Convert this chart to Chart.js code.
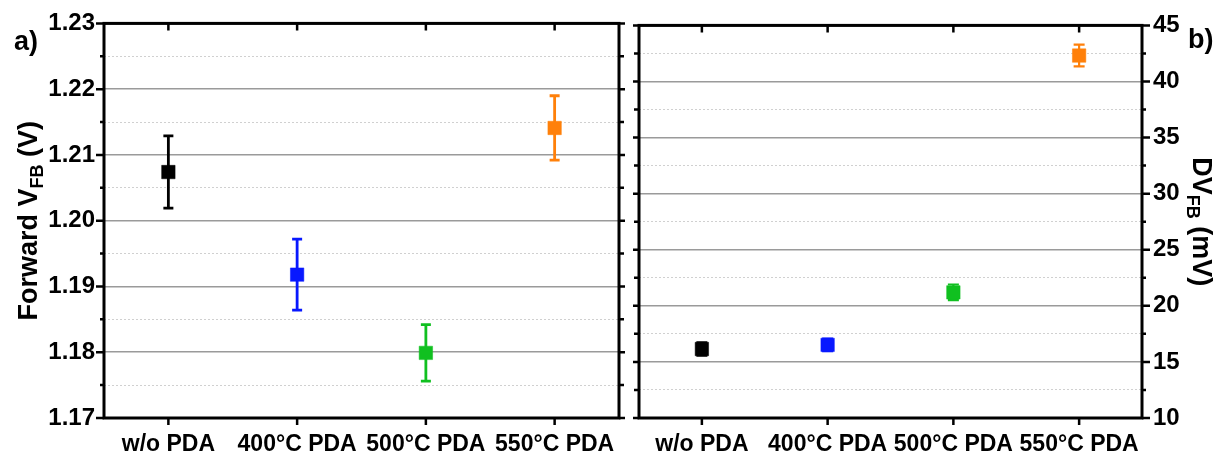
<!DOCTYPE html>
<html>
<head>
<meta charset="utf-8">
<script src="https://cdn.jsdelivr.net/npm/chart.js@4"></script>
<style>
html, body { margin: 0; padding: 0; background: #fff; }
#wrap { position: relative; width: 1227px; height: 455px; overflow: hidden; }
#leftBox { position: absolute; left: 0; top: 0; width: 629px; height: 455px; }
#rightBox { position: absolute; left: 629px; top: 0; width: 598px; height: 455px; }
</style>
</head>
<body>
<div id="wrap">
   <div id="leftBox"><canvas id="vfbChart"></canvas></div>
   <div id="rightBox"><canvas id="dvChart"></canvas></div>
</div>
<script>
// Categorias (tratamentos)
var categorias = ["w/o PDA", "400°C PDA", "500°C PDA", "550°C PDA"];
var cores = ["#000000", "#0818ff", "#10c020", "#ff800a"];

// Painel a) Forward VFB (V)
var vfbMedia = [1.2074, 1.1918, 1.1799, 1.2141];
var vfbErro = [0.0055, 0.0054, 0.0043, 0.0049];
var vfbEixo = { min: 1.17, max: 1.23, passo: 0.005, passoMaior: 0.01 };

// Painel b) DVFB (mV)
var dvMedia = [16.15, 16.52, 21.2, 42.31];
var dvErro = [0.6, 0.55, 0.7, 0.97];
var dvEixo = { min: 10, max: 45, passo: 2.5, passoMaior: 5 };

var FONTE = "'Liberation Sans', Arial, sans-serif";

function ehMaior(valor, passo) {
   var r = valor / passo;
   return Math.abs(r - Math.round(r)) < 1e-6;
}

// Texto com subscrito, girado
function tituloSub(ctx, partes, cx, cy, ang, tam) {
   ctx.save();
   ctx.translate(cx, cy);
   ctx.rotate(ang);
   ctx.fillStyle = "#000";
   ctx.textBaseline = "alphabetic";
   ctx.textAlign = "left";
   var tamSub = Math.round(tam * 0.66);
   var total = 0;
   partes.forEach(function (p) {
      ctx.font = "bold " + (p[1] ? tamSub : tam) + "px " + FONTE;
      total += ctx.measureText(p[0]).width;
   });
   var x = -total / 2;
   var base = tam * 0.36;
   partes.forEach(function (p) {
      ctx.font = "bold " + (p[1] ? tamSub : tam) + "px " + FONTE;
      ctx.fillText(p[0], x, p[1] ? base + tam * 0.22 : base);
      x += ctx.measureText(p[0]).width;
   });
   ctx.restore();
}

var molduraPlugin = {
   id: "moldura",
   beforeDatasetsDraw: function (chart, args, opts) {
      // barras de erro
      var ctx = chart.ctx, sx = chart.scales.x, sy = chart.scales.y;
      var dados = chart.data.datasets[0].data;
      ctx.save();
      ctx.lineWidth = opts.larguraErro;
      dados.forEach(function (v, i) {
         var px = sx.getPixelForValue(i);
         var topo = sy.getPixelForValue(v + opts.erros[i]);
         var baixo = sy.getPixelForValue(v - opts.erros[i]);
         var c = opts.capa / 2;
         ctx.strokeStyle = cores[i];
         ctx.beginPath();
         ctx.moveTo(px, topo); ctx.lineTo(px, baixo);
         ctx.moveTo(px - c, topo); ctx.lineTo(px + c, topo);
         ctx.moveTo(px - c, baixo); ctx.lineTo(px + c, baixo);
         ctx.stroke();
      });
      ctx.restore();
   },
   afterDraw: function (chart, args, opts) {
      var ctx = chart.ctx, a = chart.chartArea;
      var sx = chart.scales.x, sy = chart.scales.y;
      ctx.save();
      ctx.strokeStyle = "#000";
      ctx.lineWidth = 3;
      ctx.strokeRect(a.left, a.top, a.right - a.left, a.bottom - a.top);
      ctx.lineWidth = 2.5;
      ctx.beginPath();
      // marcas do eixo y
      sy.ticks.forEach(function (t) {
         var py = sy.getPixelForValue(t.value);
         var maior = ehMaior(t.value, opts.passoMaior);
         var lado = maior ? 8 : 4;
         var oposto = maior ? 6 : 5;
         if (opts.ladoRotulo === "left") {
            ctx.moveTo(a.left, py); ctx.lineTo(a.left - lado, py);
            ctx.moveTo(a.right, py); ctx.lineTo(a.right + oposto, py);
         } else {
            ctx.moveTo(a.right, py); ctx.lineTo(a.right + lado, py);
            ctx.moveTo(a.left, py); ctx.lineTo(a.left - oposto, py);
         }
      });
      // marcas do eixo x
      categorias.forEach(function (c, i) {
         var px = sx.getPixelForValue(i);
         ctx.moveTo(px, a.bottom); ctx.lineTo(px, a.bottom + 7);
         ctx.moveTo(px, a.top); ctx.lineTo(px, a.top + 7);
      });
      ctx.stroke();
      ctx.restore();

      // letra do painel
      ctx.save();
      ctx.fillStyle = "#000";
      ctx.font = "bold 27px " + FONTE;
      ctx.textBaseline = "alphabetic";
      ctx.fillText(opts.letra, opts.letraX, opts.letraY);
      ctx.restore();

      var cy = (a.top + a.bottom) / 2;
      tituloSub(ctx, opts.titulo, opts.tituloX, cy, opts.ladoRotulo === "left" ? -Math.PI / 2 : Math.PI / 2, 27);
   },
};

function eixoY(eixo, posicao, largura, padding, fmt) {
   return {
      position: posicao,
      min: eixo.min,
      max: eixo.max,
      afterFit: function (s) { s.width = largura; },
      ticks: {
         stepSize: eixo.passo,
         autoSkip: false,
         padding: padding,
         color: "#000",
         font: { family: FONTE, size: 24, weight: "bold" },
         callback: function (v) { return ehMaior(v, eixo.passoMaior) ? fmt(v) : ""; },
      },
      grid: {
         drawTicks: false,
         color: function (c) {
            if (!c.tick) return "#a6a6a6";
            return ehMaior(c.tick.value, eixo.passoMaior) ? "#9a9a9a" : "#d0d0d0";
         },
         lineWidth: function (c) {
            if (!c.tick) return 1;
            return ehMaior(c.tick.value, eixo.passoMaior) ? 1.5 : 1;
         },
      },
      border: {
         display: false,
         dash: function (c) {
            if (!c.tick) return [];
            return ehMaior(c.tick.value, eixo.passoMaior) ? [] : [2, 2];
         },
      },
   };
}

function eixoX() {
   return {
      type: "category",
      offset: true,
      afterFit: function (s) { s.height = 37; },
      grid: { display: false },
      border: { display: false },
      ticks: {
         padding: 5,
         color: "#000",
         font: { family: FONTE, size: 23, weight: "bold" },
      },
   };
}

function dataset(dados) {
   return {
      data: dados,
      showLine: false,
      pointStyle: "rect",
      pointRadius: 9.5,
      pointHoverRadius: 9.5,
      pointBorderWidth: 0.5,
      pointBackgroundColor: cores,
      pointBorderColor: cores,
   };
}

// Gráfico a)
var vfbChart = new Chart(document.getElementById("vfbChart").getContext("2d"), {
   type: "line",
   data: { labels: categorias, datasets: [dataset(vfbMedia)] },
   plugins: [molduraPlugin],
   options: {
      responsive: true,
      maintainAspectRatio: false,
      animation: false,
      layout: { padding: { left: 0, top: 14, right: 7, bottom: 0 } },
      scales: {
         x: eixoX(),
         y: eixoY(vfbEixo, "left", 104, 9, function (v) { return v.toFixed(2); }),
      },
      plugins: {
         legend: { display: false },
         tooltip: { enabled: false },
         moldura: {
            erros: vfbErro,
            larguraErro: 2.8,
            capa: 10,
            passoMaior: vfbEixo.passoMaior,
            ladoRotulo: "left",
            letra: "a)",
            letraX: 14,
            letraY: 50,
            titulo: [["Forward V", false], ["FB", true], [" (V)", false]],
            tituloX: 27,
         },
      },
   },
});

// Gráfico b)
var dvChart = new Chart(document.getElementById("dvChart").getContext("2d"), {
   type: "line",
   data: { labels: categorias, datasets: [dataset(dvMedia)] },
   plugins: [molduraPlugin],
   options: {
      responsive: true,
      maintainAspectRatio: false,
      animation: false,
      layout: { padding: { left: 6, top: 14, right: 0, bottom: 0 } },
      scales: {
         x: eixoX(),
         y: eixoY(dvEixo, "right", 85, 11, function (v) { return String(v); }),
      },
      plugins: {
         legend: { display: false },
         tooltip: { enabled: false },
         moldura: {
            erros: dvErro,
            larguraErro: 2.2,
            capa: 11,
            passoMaior: dvEixo.passoMaior,
            ladoRotulo: "right",
            letra: "b)",
            letraX: 559,
            letraY: 48,
            titulo: [["DV", false], ["FB", true], [" (mV)", false]],
            tituloX: 574,
         },
      },
   },
});
</script>
</body>
</html>
